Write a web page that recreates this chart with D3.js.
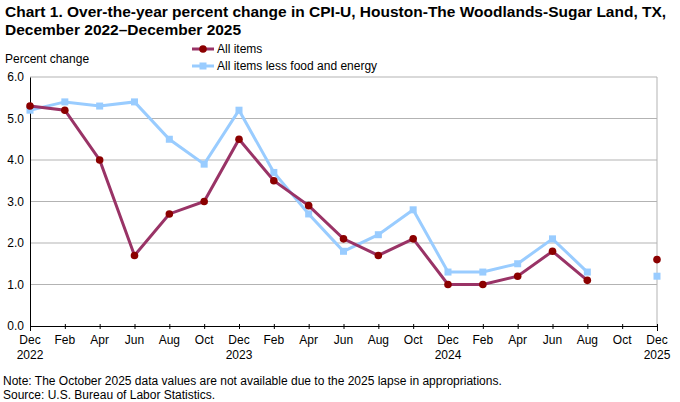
<!DOCTYPE html>
<html>
<head>
<meta charset="utf-8">
<script src="https://cdn.jsdelivr.net/npm/d3@7"></script>
<style>
  body { margin: 0; background: #fff; }
  text { font-family: "Liberation Sans", Arial, sans-serif; }
</style>
</head>
<body>
<div id="chart"></div>
<script>
// Datos: meses cada dos meses, dic 2022 - dic 2025 (oct 2025 sin dato)
const months = ["Dec", "Feb", "Apr", "Jun", "Aug", "Oct", "Dec", "Feb", "Apr", "Jun", "Aug", "Oct",
                "Dec", "Feb", "Apr", "Jun", "Aug", "Oct", "Dec"];
const years = ["2022", "", "", "", "", "", "2023", "", "", "", "", "",
               "2024", "", "", "", "", "", "2025"];
const allItems = [5.3, 5.2, 4.0, 1.7, 2.7, 3.0, 4.5, 3.5, 2.9, 2.1, 1.7, 2.1,
                  1.0, 1.0, 1.2, 1.8, 1.1, null, 1.6];
const core = [5.2, 5.4, 5.3, 5.4, 4.5, 3.9, 5.2, 3.7, 2.7, 1.8, 2.2, 2.8,
              1.3, 1.3, 1.5, 2.1, 1.3, null, 1.2];
const yTicks = [0, 1, 2, 3, 4, 5, 6];

const width = 680;
const height = 402;
const margin = { top: 77, right: 23, bottom: 76, left: 30 };

const x = d3.scaleLinear()
    .domain([0, months.length - 1])
    .range([margin.left, width - margin.right]);

const y = d3.scaleLinear()
    .domain([0, 6])
    .range([height - margin.bottom, margin.top]);

const svg = d3.select("#chart").append("svg")
    .attr("width", width)
    .attr("height", height);

// Titulo
svg.append("text").attr("x", 5).attr("y", 17)
    .attr("font-size", 15.5).attr("font-weight", "bold")
    .text("Chart 1. Over-the-year percent change in CPI-U, Houston-The Woodlands-Sugar Land, TX,");
svg.append("text").attr("x", 5).attr("y", 35)
    .attr("font-size", 15.5).attr("font-weight", "bold")
    .text("December 2022\u2013December  2025");

svg.append("text").attr("x", 5).attr("y", 63)
    .attr("font-size", 12).text("Percent change");

// Rejilla y marco
svg.append("g")
    .selectAll("line")
    .data(yTicks.filter(d => d > 0))
    .enter().append("line")
    .attr("x1", margin.left).attr("x2", width - margin.right)
    .attr("y1", d => y(d)).attr("y2", d => y(d))
    .attr("stroke", "#b3b3b3").attr("stroke-width", 1);

svg.append("line")
    .attr("x1", width - margin.right).attr("x2", width - margin.right)
    .attr("y1", y(6)).attr("y2", y(0))
    .attr("stroke", "#b3b3b3");

// Ejes
const yAxis = svg.append("g")
    .attr("transform", `translate(${margin.left},0)`)
    .call(d3.axisLeft(y).tickValues(yTicks).tickFormat(d3.format(".1f")).tickSize(0).tickPadding(6));
yAxis.select(".domain").attr("stroke", "#000");
yAxis.selectAll("text").attr("font-size", 12).attr("fill", "#000")
    .style("font-family", "Liberation Sans, Arial, sans-serif");

const xAxis = svg.append("g")
    .attr("transform", `translate(0,${y(0)})`)
    .call(d3.axisBottom(x).tickValues(d3.range(months.length)).tickFormat(() => "").tickSizeOuter(0).tickSize(5));
xAxis.selectAll("line").attr("stroke", "#000").attr("transform", "translate(0,-2)");
xAxis.select(".domain").attr("stroke", "#000");

const xl = svg.append("g").attr("font-size", 12);
xl.selectAll(".m").data(months).enter().append("text")
    .attr("x", (d, i) => x(i)).attr("y", y(0) + 18)
    .attr("text-anchor", "middle").text(d => d);
xl.selectAll(".yr").data(years).enter().append("text")
    .attr("x", (d, i) => x(i)).attr("y", y(0) + 33)
    .attr("text-anchor", "middle").text(d => d);

// Lineas
function drawSeries(values, lineColor, markColor, square) {
    const line = d3.line()
        .defined(d => d != null)
        .x((d, i) => x(i))
        .y(d => y(d));

    svg.append("path")
        .datum(values)
        .attr("d", line)
        .attr("fill", "none")
        .attr("stroke", lineColor)
        .attr("stroke-width", 3);

    const pts = values.map((v, i) => ({ i, v })).filter(d => d.v != null);
    if (square) {
        svg.append("g").selectAll("rect").data(pts).enter().append("rect")
            .attr("x", d => x(d.i) - 3.5).attr("y", d => y(d.v) - 3.5)
            .attr("width", 7).attr("height", 7)
            .attr("fill", markColor);
    } else {
        svg.append("g").selectAll("circle").data(pts).enter().append("circle")
            .attr("cx", d => x(d.i)).attr("cy", d => y(d.v))
            .attr("r", 3.8)
            .attr("fill", markColor);
    }
}

drawSeries(core, "#99ccff", "#99ccff", true);
drawSeries(allItems, "#993366", "#8b0000", false);

// Leyenda
const legend = [
    { label: "All items", line: "#993366", mark: "#8b0000", square: false, yy: 49 },
    { label: "All items less food and energy", line: "#99ccff", mark: "#99ccff", square: true, yy: 66 }
];
legend.forEach(l => {
    svg.append("line").attr("x1", 192).attr("x2", 214)
        .attr("y1", l.yy).attr("y2", l.yy)
        .attr("stroke", l.line).attr("stroke-width", 3);
    if (l.square) {
        svg.append("rect").attr("x", 199.5).attr("y", l.yy - 3.5)
            .attr("width", 7).attr("height", 7).attr("fill", l.mark);
    } else {
        svg.append("circle").attr("cx", 203).attr("cy", l.yy).attr("r", 3.8).attr("fill", l.mark);
    }
    svg.append("text").attr("x", 217).attr("y", l.yy + 4)
        .attr("font-size", 12).text(l.label);
});

// Notas
svg.append("text").attr("x", 3).attr("y", 385).attr("font-size", 12)
    .text("Note: The October 2025 data values  are not available  due to the 2025  lapse in appropriations.");
svg.append("text").attr("x", 3).attr("y", 399).attr("font-size", 12)
    .text("Source: U.S. Bureau  of Labor  Statistics.");
</script>
</body>
</html>
